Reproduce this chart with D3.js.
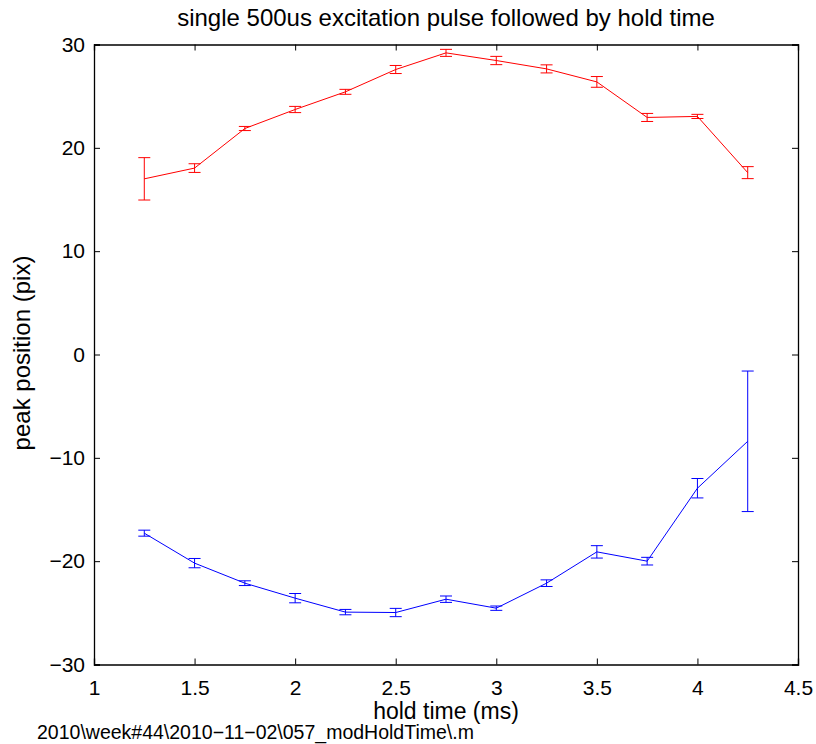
<!DOCTYPE html>
<html>
<head>
<meta charset="utf-8">
<script src="https://cdn.jsdelivr.net/npm/d3@7"></script>
<style>
  body { margin: 0; background: #fff; }
  svg text { font-family: "Liberation Sans", Arial, Helvetica, sans-serif; fill: #000; }
</style>
</head>
<body>
<div id="chart"></div>
<script>
// hold time (ms)
var holdTime = [1.25, 1.5, 1.75, 2.0, 2.25, 2.5, 2.75, 3.0, 3.25, 3.5, 3.75, 4.0, 4.25];

// upper peak (red) and its error
var redPeak = [17.0, 18.04, 21.87, 23.71, 25.42, 27.58, 29.19, 28.45, 27.64, 26.38, 22.94, 23.04, 17.6];
var redErr  = [2.05, 0.42, 0.2, 0.3, 0.24, 0.39, 0.34, 0.4, 0.39, 0.52, 0.39, 0.2, 0.58];

// lower peak (blue) and its error
var bluePeak = [-17.29, -20.19, -22.13, -23.58, -24.93, -24.97, -23.68, -24.55, -22.13, -19.1, -20.0, -12.94, -8.4];
var blueErr  = [0.29, 0.45, 0.23, 0.45, 0.26, 0.4, 0.31, 0.21, 0.32, 0.6, 0.37, 0.94, 6.8];

var xTicks = [1, 1.5, 2, 2.5, 3, 3.5, 4, 4.5];
var yTicks = [-30, -20, -10, 0, 10, 20, 30];

function draw() {
    var W = 816, H = 744;
    var left = 94, right = 798, top = 44.5, bottom = 664.5;

    var svg = d3.select("#chart").append("svg")
        .attr("width", W)
        .attr("height", H);

    var x = d3.scaleLinear().domain([1, 4.5]).range([left, right]);
    var y = d3.scaleLinear().domain([-30, 30]).range([bottom, top]);

    var fmt = function(d) { return String(d).replace("-", "\u2212"); };

    // axes, ticks pointing inward like matlab
    svg.append("g")
        .attr("transform", "translate(0," + bottom + ")")
        .call(d3.axisBottom(x).tickValues(xTicks).tickSize(-6).tickPadding(16).tickFormat(fmt));
    svg.append("g")
        .attr("transform", "translate(0," + top + ")")
        .call(d3.axisTop(x).tickValues(xTicks).tickSize(-6).tickFormat(""));
    svg.append("g")
        .attr("transform", "translate(" + left + ",0)")
        .call(d3.axisLeft(y).tickValues(yTicks).tickSize(-6).tickPadding(9).tickFormat(fmt));
    svg.append("g")
        .attr("transform", "translate(" + right + ",0)")
        .call(d3.axisRight(y).tickValues(yTicks).tickSize(-6).tickFormat(""));

    svg.selectAll(".domain").attr("stroke", "#000").attr("stroke-width", 1.3);
    svg.selectAll(".tick line").attr("stroke", "#000");
    svg.selectAll(".tick text").style("font-size", "21px").attr("fill", "#000");

    // series
    var series = [
        { vals: redPeak, err: redErr, color: "#ff0000" },
        { vals: bluePeak, err: blueErr, color: "#0000ff" }
    ];

    var line = d3.line()
        .x(function(d) { return x(d[0]); })
        .y(function(d) { return y(d[1]); });

    var cap = 6;
    series.forEach(function(s) {
        var pts = holdTime.map(function(t, i) { return [t, s.vals[i], s.err[i]]; });
        var g = svg.append("g").attr("stroke", s.color).attr("fill", "none").attr("stroke-width", 1);

        g.append("path").attr("d", line(pts));

        var eb = g.selectAll(".eb").data(pts).enter().append("g");
        eb.append("line")
            .attr("x1", function(d) { return x(d[0]); })
            .attr("x2", function(d) { return x(d[0]); })
            .attr("y1", function(d) { return y(d[1] + d[2]); })
            .attr("y2", function(d) { return y(d[1] - d[2]); });
        eb.append("line")
            .attr("x1", function(d) { return x(d[0]) - cap; })
            .attr("x2", function(d) { return x(d[0]) + cap; })
            .attr("y1", function(d) { return y(d[1] + d[2]); })
            .attr("y2", function(d) { return y(d[1] + d[2]); });
        eb.append("line")
            .attr("x1", function(d) { return x(d[0]) - cap; })
            .attr("x2", function(d) { return x(d[0]) + cap; })
            .attr("y1", function(d) { return y(d[1] - d[2]); })
            .attr("y2", function(d) { return y(d[1] - d[2]); });
    });

    // labels
    svg.append("text")
        .attr("x", 446).attr("y", 26)
        .attr("text-anchor", "middle")
        .style("font-size", "24px")
        .text("single 500us excitation pulse followed by hold time");

    svg.append("text")
        .attr("x", 446).attr("y", 719)
        .attr("text-anchor", "middle")
        .style("font-size", "23px")
        .text("hold time (ms)");

    svg.append("text")
        .attr("transform", "translate(30,353) rotate(-90)")
        .attr("text-anchor", "middle")
        .style("font-size", "24px")
        .text("peak position (pix)");

    svg.append("text")
        .attr("x", 37).attr("y", 739)
        .style("font-size", "19.5px")
        .text("2010\\week#44\\2010\u221211\u221202\\057_modHoldTime\\.m");
}

window.onload = draw;
</script>
</body>
</html>
